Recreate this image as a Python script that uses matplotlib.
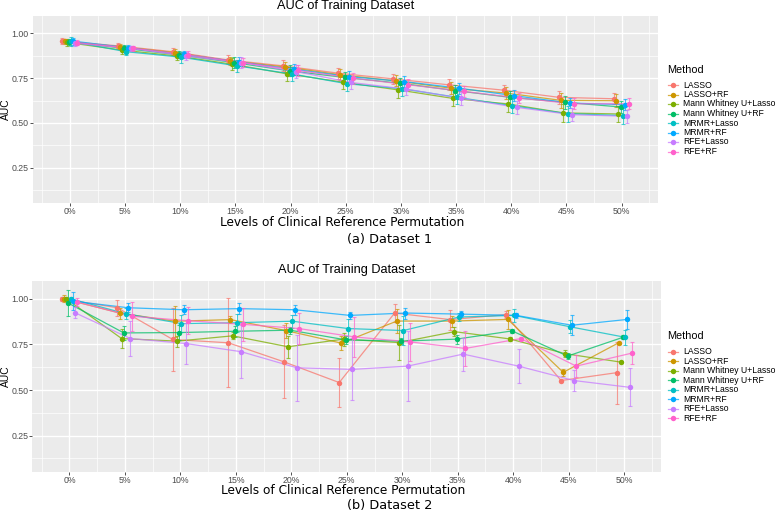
import numpy as np
import matplotlib
matplotlib.use("Agg")
import matplotlib.pyplot as plt
from matplotlib.lines import Line2D

levels = ["0%", "5%", "10%", "15%", "20%", "25%", "30%", "35%", "40%", "45%", "50%"]
methods = ["LASSO", "LASSO+RF", "Mann Whitney U+Lasso", "Mann Whitney U+RF",
           "MRMR+Lasso", "MRMR+RF", "RFE+Lasso", "RFE+RF"]
colors = ["#F8766D", "#CD9600", "#7CAE00", "#00BE67",
          "#00BFC4", "#00A9FF", "#C77CFF", "#FF61CC"]

# Dataset 1 (rows follow `methods`)
auc_d1 = [
    [0.957, 0.931, 0.898, 0.852, 0.819, 0.778, 0.746, 0.713, 0.683, 0.643, 0.635],
    [0.955, 0.926, 0.893, 0.846, 0.813, 0.769, 0.735, 0.694, 0.667, 0.626, 0.624],
    [0.950, 0.907, 0.874, 0.828, 0.774, 0.728, 0.685, 0.637, 0.606, 0.556, 0.550],
    [0.952, 0.917, 0.880, 0.837, 0.791, 0.754, 0.722, 0.681, 0.643, 0.615, 0.589],
    [0.955, 0.898, 0.867, 0.819, 0.774, 0.719, 0.691, 0.643, 0.596, 0.552, 0.541],
    [0.957, 0.920, 0.883, 0.841, 0.800, 0.759, 0.731, 0.694, 0.652, 0.611, 0.602],
    [0.945, 0.917, 0.874, 0.837, 0.787, 0.726, 0.689, 0.637, 0.587, 0.546, 0.537],
    [0.948, 0.917, 0.880, 0.837, 0.793, 0.750, 0.713, 0.676, 0.639, 0.607, 0.607],
]
err_d1 = [
    [0.015, 0.015, 0.020, 0.025, 0.030, 0.030, 0.030, 0.030, 0.030, 0.035, 0.030],
    [0.015, 0.015, 0.020, 0.025, 0.030, 0.030, 0.030, 0.035, 0.035, 0.040, 0.035],
    [0.020, 0.020, 0.025, 0.035, 0.040, 0.040, 0.045, 0.045, 0.045, 0.050, 0.045],
    [0.015, 0.020, 0.020, 0.030, 0.030, 0.030, 0.030, 0.030, 0.035, 0.035, 0.035],
    [0.025, 0.020, 0.030, 0.035, 0.040, 0.040, 0.040, 0.040, 0.040, 0.045, 0.045],
    [0.020, 0.015, 0.020, 0.025, 0.030, 0.030, 0.030, 0.030, 0.030, 0.030, 0.030],
    [0.015, 0.015, 0.025, 0.030, 0.035, 0.035, 0.035, 0.035, 0.035, 0.035, 0.035],
    [0.015, 0.015, 0.020, 0.025, 0.030, 0.030, 0.030, 0.030, 0.030, 0.030, 0.030],
]

# Dataset 2
auc_d2 = [
    [1.000, 0.951, 0.777, 0.759, 0.655, 0.541, 0.922, 0.886, 0.913, 0.552, 0.595],
    [1.000, 0.922, 0.877, 0.886, 0.826, 0.757, 0.878, 0.878, 0.887, 0.597, 0.759],
    [1.000, 0.782, 0.768, 0.797, 0.737, 0.779, 0.760, 0.820, 0.780, 0.699, 0.653],
    [0.976, 0.813, 0.815, 0.822, 0.828, 0.775, 0.768, 0.779, 0.824, 0.686, 0.789],
    [1.000, 0.918, 0.864, 0.869, 0.877, 0.837, 0.826, 0.900, 0.909, 0.847, 0.789],
    [0.987, 0.951, 0.940, 0.946, 0.940, 0.909, 0.922, 0.916, 0.909, 0.855, 0.887],
    [0.924, 0.782, 0.755, 0.710, 0.622, 0.613, 0.631, 0.697, 0.631, 0.552, 0.515],
    [0.982, 0.904, 0.880, 0.860, 0.837, 0.791, 0.764, 0.728, 0.782, 0.631, 0.702],
]
err_d2 = [
    [0.010, 0.045, 0.170, 0.245, 0.200, 0.135, 0.050, 0.055, 0.020, 0.005, 0.170],
    [0.020, 0.030, 0.085, 0.020, 0.040, 0.040, 0.065, 0.030, 0.050, 0.020, 0.005],
    [0.010, 0.050, 0.030, 0.020, 0.060, 0.035, 0.095, 0.025, 0.010, 0.020, 0.005],
    [0.070, 0.040, 0.040, 0.030, 0.020, 0.020, 0.015, 0.025, 0.010, 0.015, 0.010],
    [0.010, 0.030, 0.045, 0.050, 0.035, 0.055, 0.080, 0.020, 0.035, 0.035, 0.040],
    [0.050, 0.025, 0.025, 0.030, 0.027, 0.020, 0.030, 0.015, 0.015, 0.055, 0.050],
    [0.030, 0.095, 0.110, 0.145, 0.180, 0.170, 0.190, 0.090, 0.095, 0.060, 0.105],
    [0.020, 0.080, 0.075, 0.090, 0.085, 0.110, 0.105, 0.095, 0.010, 0.060, 0.060],
]

W, H = 778, 512
fig = plt.figure(figsize=(W / 100, H / 100), dpi=100)


def fx(px):
    return px / W


def fy(py):
    return 1 - py / H


def draw_panel(rect, auc, err, title_y, xlab_y, cap_y, caption, leg_title_y, leg_y0, leg_dy):
    left, top, right, bottom = rect
    ax = fig.add_axes([fx(left), fy(bottom), fx(right - left), (bottom - top) / H])
    ax.set_facecolor("#EBEBEB")
    for s in ax.spines.values():
        s.set_visible(False)

    x = np.arange(len(levels))
    for i, (name, col) in enumerate(zip(methods, colors)):
        xs = x + (i - 3.5) * 0.039
        ax.plot(xs, auc[i], color=col, lw=0.9, alpha=0.75, zorder=3)
        ax.errorbar(xs, auc[i], yerr=err[i], fmt="none", ecolor=col, elinewidth=0.8,
                    capsize=1.4, capthick=0.8, alpha=0.7, zorder=3)
        ax.plot(xs, auc[i], "o", color=col, ms=3.9, mec="none", zorder=4)

    ax.set_xlim(-0.67, 10.66)
    ax.set_ylim(0.0525, 1.0975)
    ax.set_xticks(x)
    ax.set_xticklabels(levels)
    ax.set_xticks(np.arange(-0.5, 11, 1.0), minor=True)
    ax.set_yticks([0.25, 0.50, 0.75, 1.00])
    ax.set_yticklabels(["0.25", "0.50", "0.75", "1.00"])
    ax.set_yticks([0.125, 0.375, 0.625, 0.875], minor=True)
    ax.grid(True, which="major", color="white", lw=1.0, zorder=0)
    ax.grid(True, which="minor", color="white", lw=0.5, zorder=0)
    ax.set_axisbelow(True)
    ax.tick_params(which="major", length=2.2, width=0.6, color="#333333",
                   labelsize=6.3, labelcolor="#4D4D4D", pad=0.8)
    ax.tick_params(which="minor", length=0)
    for lab in ax.get_xticklabels() + ax.get_yticklabels():
        lab.set_family("Liberation Sans")

    # y axis title
    fig.text(fx(6), fy((top + bottom) / 2), "AUC", rotation=90, ha="center", va="center",
             fontsize=7.4, family="Liberation Sans")

    cx = (left + right) / 2
    fig.text(fx(cx), fy(title_y), "AUC of Training Dataset", ha="center", va="center",
             fontsize=9.2, family="Liberation Sans")
    fig.text(fx(cx - 3), fy(xlab_y), "Levels of Clinical Reference Permutation",
             ha="center", va="center", fontsize=8.7, family="DejaVu Sans")
    fig.text(fx(390), fy(cap_y), caption, ha="center", va="center",
             fontsize=9.3, family="DejaVu Sans")

    # legend
    fig.text(fx(667), fy(leg_title_y), "Method", ha="left", va="center",
             fontsize=7.8, family="Liberation Sans")
    for i, (name, col) in enumerate(zip(methods, colors)):
        yy = fy(leg_y0 + i * leg_dy)
        fig.add_artist(Line2D([fx(668), fx(678)], [yy, yy], color=col, lw=0.9,
                              alpha=0.75, transform=fig.transFigure))
        fig.add_artist(Line2D([fx(673)], [yy], marker="o", ms=3.9, color=col, mec="none",
                              transform=fig.transFigure))
        fig.text(fx(683), yy, name, ha="left", va="center", fontsize=6.2,
                 family="Liberation Sans")
    return ax


draw_panel((33, 16, 658, 203), auc_d1, err_d1, 6.5, 222, 240, "(a) Dataset 1", 70, 85, 9.5)
draw_panel((32.3, 281, 660.7, 471.7), auc_d2, err_d2, 270, 490, 505, "(b) Dataset 2", 336, 351.7, 9.5)

fig.savefig("out.png", dpi=100)
